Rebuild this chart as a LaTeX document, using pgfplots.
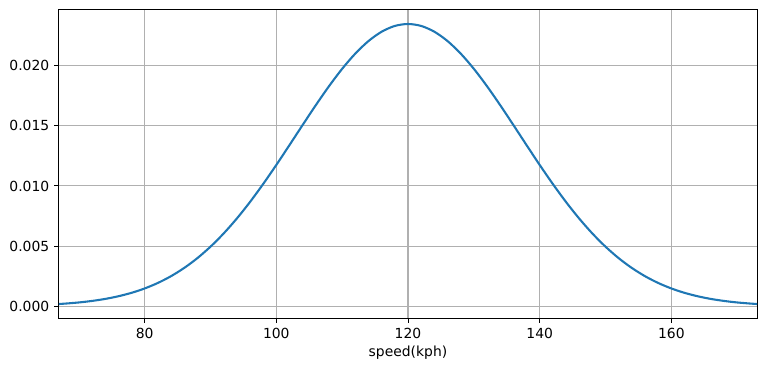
\documentclass[border=0pt]{standalone}
\usepackage{fontspec}
\setmainfont{DejaVu Sans}
\usepackage{pgfplots}
\pgfplotsset{compat=1.18}
\definecolor{mplblue}{HTML}{1F77B4}
\definecolor{gridgray}{HTML}{B0B0B0}
\begin{document}
\fontsize{13.9bp}{16bp}\selectfont
\begin{tikzpicture}
\begin{axis}[
  at={(0,0)}, anchor=south west,
  scale only axis, width=698bp, height=308bp,
  xmin=67, xmax=173, ymin=-0.000982, ymax=0.024632,
  xtick={80,100,120,140,160},
  ytick={0,0.005,0.010,0.015,0.020},
  scaled y ticks=false,
  yticklabel style={/pgf/number format/.cd, fixed, fixed zerofill, precision=3},
  /pgf/number format/assume math mode=true,
  tick label style={font=\fontsize{13.9bp}{16bp}\selectfont},
  label style={font=\fontsize{13.9bp}{16bp}\selectfont},
  xlabel={speed(kph)},
  xlabel style={yshift=2bp},
  grid=major,
  major grid style={draw=gridgray, line width=1.1bp},
  axis line style={black, line width=1.0bp},
  tick style={black, line width=1.0bp},
  tick align=outside, major tick length=4.9bp,
  xtick pos=bottom, ytick pos=left,
]
\addplot[mplblue, line width=2.08bp, no markers, smooth, line join=round, line cap=round] coordinates {
(67,0.000182)(68,0.000218)(70,0.000310)(72,0.000436)(74,0.000603)(76,0.000824)
(78,0.001109)(80,0.001473)(82,0.001930)(84,0.002493)(86,0.003176)(88,0.003991)
(90,0.004946)(92,0.006045)(94,0.007287)(96,0.008663)(98,0.010158)(100,0.011747)
(102,0.013398)(104,0.015070)(106,0.016718)(108,0.018292)(110,0.019740)(112,0.021008)
(114,0.022051)(116,0.022827)(118,0.023306)(120,0.023468)
(122,0.023306)(124,0.022827)(126,0.022051)(128,0.021008)(130,0.019740)(132,0.018292)
(134,0.016718)(136,0.015070)(138,0.013398)(140,0.011747)(142,0.010158)(144,0.008663)
(146,0.007287)(148,0.006045)(150,0.004946)(152,0.003991)(154,0.003176)(156,0.002493)
(158,0.001930)(160,0.001473)(162,0.001109)(164,0.000824)(166,0.000603)(168,0.000436)
(170,0.000310)(172,0.000218)(173,0.000182)
};
\end{axis}
\pgfresetboundingbox
\path (-59bp,-53bp) rectangle (707bp,318bp);
\end{tikzpicture}
\end{document}
